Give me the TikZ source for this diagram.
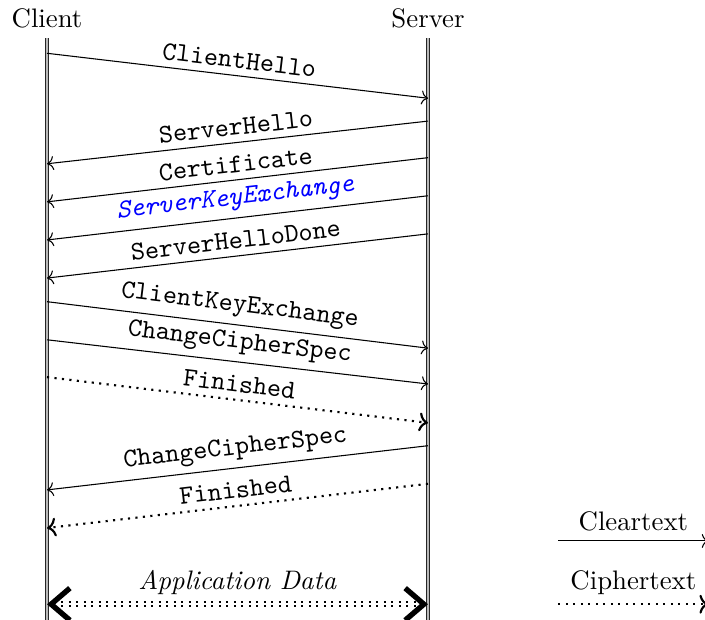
\documentclass[tikz,border=0pt]{standalone}
\usepackage{tikz}
\usetikzlibrary{arrows.meta, positioning, calc}

\begin{document}
\begin{tikzpicture}[
    actor/.style={above, font=\normalsize},
    life/.style={draw=black!85, double=gray!55, line width=0.5pt, double distance=0.7pt},
    msg/.style={->},
    enc/.style={->, thick, dotted},
    lbl/.style={above, sloped, midway, inner sep=2.5pt, font=\ttfamily},
    appdata/.style={{Straight Barb[length=7pt, width=12pt, line width=2pt]}-{Straight Barb[length=7pt, width=12pt, line width=2pt]}, thick, double, dotted}]

\useasboundingbox (-0.617,0.499) rectangle (8.635,-7.625);

% Lifelines
\coordinate (ctop) at (0,0);
\coordinate (stop) at (5,0);
\coordinate (cbot) at (0,-7.8);
\coordinate (sbot) at (5,-7.8);
\node[actor] (client) at (ctop) {Client};
\node[actor] (server) at (stop) {Server};
\draw[life] (ctop) -- (cbot);
\draw[life] (stop) -- (sbot);

% Message end points (c = client side, s = server side)
\coordinate (c1) at (0,-0.20);  \coordinate (s1) at (5,-0.79);
\coordinate (s2) at (5,-1.09);  \coordinate (c2) at (0,-1.65);
\coordinate (s3) at (5,-1.57);  \coordinate (c3) at (0,-2.15);
\coordinate (s4) at (5,-2.07);  \coordinate (c4) at (0,-2.65);
\coordinate (s5) at (5,-2.57);  \coordinate (c5) at (0,-3.15);
\coordinate (c6) at (0,-3.46);  \coordinate (s6) at (5,-4.07);
\coordinate (c7) at (0,-3.96);  \coordinate (s7) at (5,-4.54);
\coordinate (c8) at (0,-4.45);  \coordinate (s8) at (5,-5.05);
\coordinate (s9) at (5,-5.35);  \coordinate (c9) at (0,-5.93);
\coordinate (s10) at (5,-5.85); \coordinate (c10) at (0,-6.43);
\coordinate (c11) at (0,-7.43); \coordinate (s11) at (5,-7.43);

% Handshake
\draw[msg] (c1) -- (s1) node[lbl] {ClientHello};
\draw[msg] (s2) -- (c2) node[lbl] {ServerHello};
\draw[msg] (s3) -- (c3) node[lbl] {Certificate};
\draw[msg] (s4) -- (c4) node[lbl, blue, font=\ttfamily\itshape] {ServerKeyExchange};
\draw[msg] (s5) -- (c5) node[lbl] {ServerHelloDone};
\draw[msg] (c6) -- (s6) node[lbl] {ClientKeyExchange};
\draw[msg] (c7) -- (s7) node[lbl] {ChangeCipherSpec};
\draw[enc] (c8) -- (s8) node[lbl] {Finished};
\draw[msg] (s9) -- (c9) node[lbl] {ChangeCipherSpec};
\draw[enc] (s10) -- (c10) node[lbl] {Finished};

% Application data
\draw[appdata] (c11) -- (s11) node[midway, above] {\textit{Application Data}};

% Legend
\coordinate (leg1a) at (6.71,-6.60); \coordinate (leg1b) at (8.68,-6.60);
\coordinate (leg2a) at (6.71,-7.43); \coordinate (leg2b) at (8.68,-7.43);
\draw[msg] (leg1a) -- (leg1b) node[midway, above] (clear) {Cleartext};
\draw[enc] (leg2a) -- (leg2b) node[midway, above] (cipher) {Ciphertext};
\end{tikzpicture}
\end{document}
